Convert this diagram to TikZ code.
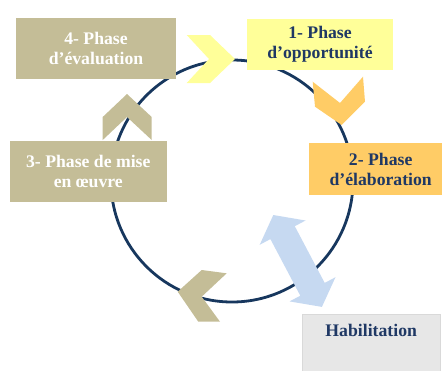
\documentclass[tikz,border=0pt]{standalone}
\usepackage{fontspec}
\setmainfont{Liberation Serif}
\definecolor{tan}{HTML}{C4BD97}
\definecolor{paleyellow}{HTML}{FFFF99}
\definecolor{paleorange}{HTML}{FFCC66}
\definecolor{paleblue}{HTML}{C6D9F1}
\definecolor{navy}{HTML}{1F3864}
\definecolor{ringblue}{HTML}{17375E}
\definecolor{habgray}{HTML}{E7E7E7}
\definecolor{habborder}{HTML}{D9D9D9}
\begin{document}
\begin{tikzpicture}[x=1pt,y=-1pt,
  phasebox/.style={rectangle, inner sep=0pt, align=center,
    font=\fontsize{17.7}{20}\selectfont\bfseries},
  tanbox/.style={phasebox, fill=tan, text=white},
  navybox/.style={phasebox, text=navy},
  chev/.style={draw=none}]
\useasboundingbox (0,0) rectangle (442,370);
% ring
\draw[ringblue, line width=2.8pt] (232,181) circle[radius=121pt];
% chevrons
\fill[paleyellow] (186.7,35) -- (210,35) -- (235,59) -- (210,83) -- (186.7,83) -- (209,59) -- cycle;
\fill[paleorange] (312.7,81.7) -- (340,103) -- (363,76.7) -- (365,101.7) -- (341.7,125) -- (315,106.7) -- cycle;
\fill[tan] (102.7,140) -- (102.7,117) -- (127,94) -- (151.7,117) -- (151.7,140) -- (127,117) -- cycle;
\fill[tan] (201.7,270) -- (226.7,273.3) -- (201.7,296.7) -- (220,321.7) -- (198.3,321.7) -- (177.7,291.7) -- cycle;
% boxes
\node (p4) [tanbox, minimum width=160pt, minimum height=61pt] at (96,48.5) {4- Phase\\d’évaluation};
\node (p1) [navybox, fill=paleyellow, minimum width=146.6pt, minimum height=50.7pt] at (320,44.7) {1- Phase\\d’opportunité};
\node (p2) [navybox, fill=paleorange, minimum width=142.7pt, minimum height=52pt] at (380.7,169) {2- Phase\\d’élaboration};
\node (p3) [tanbox, minimum width=156.7pt, minimum height=61pt] at (88.3,171.5) {3- Phase de mise\\en œuvre};
\node (hab) [navybox, fill=habgray, draw=habborder, line width=0.6pt, minimum width=137.7pt, minimum height=58pt] at (371.2,343) {Habilitation\\\strut};
% double arrow
\fill[paleblue] (273.3,215) -- (305.6,220.5) -- (294.8,226.2) -- (324.7,282.9) -- (335.5,277.2)
  -- (321.9,306.9) -- (289.5,301.4) -- (300.3,295.7) -- (270.4,239.1) -- (259.7,244.8) -- cycle;
\end{tikzpicture}
\end{document}
